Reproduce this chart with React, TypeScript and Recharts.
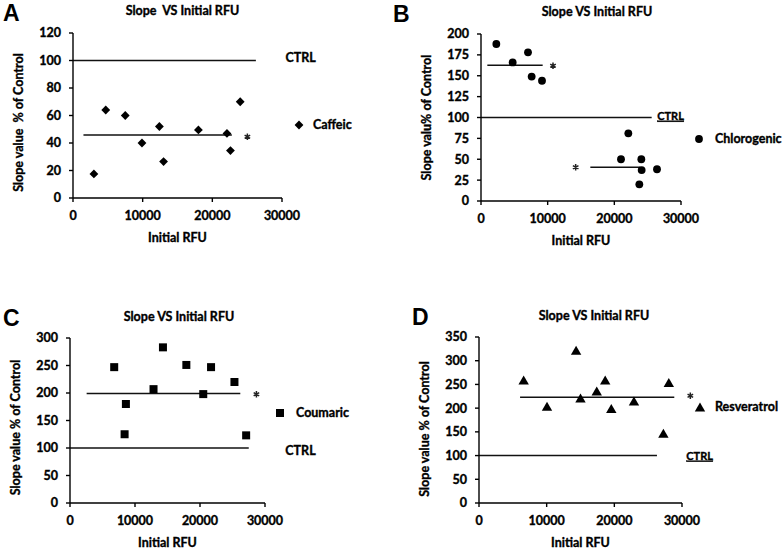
import React from 'react';
import {
  ScatterChart,
  Scatter,
  XAxis,
  YAxis,
  ReferenceLine,
  ReferenceDot,
  Legend,
} from 'recharts';

const FONT = 'Lato, "Open Sans", sans-serif';

// x axis (Initial RFU) is the same for all four panels
const rfuTicks = [0, 10000, 20000, 30000];

// A - caffeic
const caffeicRfu = [3000, 4700, 7500, 9900, 12400, 13000, 18000, 22100, 22600, 24000];
const caffeicSlope = [17.5, 64, 60, 40, 52, 26.5, 49.5, 47, 34.5, 70];
const caffeicTicks = [0, 20, 40, 60, 80, 100, 120];

// B - chlorogenic
const chlorogenicRfu = [2300, 4750, 7050, 7600, 9150, 22100, 21000, 24050, 24100, 26400, 23750];
const chlorogenicSlope = [188, 166, 178, 149, 144, 81, 50, 50, 37, 38, 20];
const chlorogenicTicks = [0, 25, 50, 75, 100, 125, 150, 175, 200];

// C - coumaric
const coumaricRfu = [6800, 8600, 8400, 12850, 14300, 17900, 20500, 21700, 25300, 27100];
const coumaricSlope = [247, 180, 125, 207, 283, 251, 198, 247, 220, 123];
const coumaricTicks = [0, 50, 100, 150, 200, 250, 300];

// D - resveratrol
const resveratrolRfu = [6600, 10050, 14350, 15000, 17400, 18650, 19550, 22900, 27250, 28050];
const resveratrolSlope = [259, 204, 322, 221, 236, 259, 199, 215, 147, 254];
const resveratrolTicks = [0, 50, 100, 150, 200, 250, 300, 350];

const ctrlLevel = 100;

type Seg = { from: number; to: number; y: number };
type Note = { x: number; y: number; text: string; kind: 'ctrl' | 'star'; underline?: boolean };

const zip = (xs: number[], ys: number[]) => xs.map((x, i) => ({ x, y: ys[i] }));

function Diamond({ cx, cy }: any) {
  const r = 4.4;
  return <path d={`M${cx},${cy - r}L${cx + r},${cy}L${cx},${cy + r}L${cx - r},${cy}Z`} fill="#000" />;
}
function Dot({ cx, cy }: any) {
  return <circle cx={cx} cy={cy} r={3.9} fill="#000" />;
}
function Square({ cx, cy }: any) {
  return <rect x={cx - 4} y={cy - 4} width={8} height={8} fill="#000" />;
}
function Triangle({ cx, cy }: any) {
  return <path d={`M${cx},${cy - 4.6}L${cx + 5.2},${cy + 4.4}L${cx - 5.2},${cy + 4.4}Z`} fill="#000" />;
}

// significance star, drawn as spokes so it stays crisp and black
function Star({ cx, cy }: any) {
  const r = 3.2;
  const d = [90, 30, -30]
    .map((a) => {
      const dx = r * Math.cos((a * Math.PI) / 180);
      const dy = r * Math.sin((a * Math.PI) / 180);
      return `M${cx - dx},${cy - dy}L${cx + dx},${cy + dy}`;
    })
    .join('');
  return <path d={d} stroke="#222" strokeWidth={1.5} fill="none" />;
}

// a thin outline makes Lato read closer to the heavier original
const tickStyle = {
  fill: '#000',
  stroke: '#000',
  strokeWidth: 0.35,
  fontFamily: FONT,
  fontWeight: 700,
  fontSize: 12.5,
};

const ctrlLabel = (n: Note) => (props: any) => {
  const vb = props.viewBox;
  const x = vb.x + (vb.width || 0) / 2;
  const y = vb.y + (vb.height || 0) / 2;
  return (
    <text
      x={x}
      y={y}
      dy="0.36em"
      textAnchor="start"
      textDecoration={n.underline ? 'underline' : undefined}
      style={{ ...(tickStyle as any), fontSize: n.underline ? 11 : 12.5 }}
    >
      {n.text}
    </text>
  );
};

const xTitle = (text: string) => (props: any) => {
  const vb = props.viewBox;
  return (
    <text x={vb.x + vb.width / 2} y={vb.y + 39.5} dy="0.36em" textAnchor="middle" style={tickStyle as any}>
      {text}
    </text>
  );
};

const yTitle = (text: string, shift: number) => (props: any) => {
  const vb = props.viewBox;
  const x = vb.x + vb.width - 55;
  const y = vb.y + vb.height / 2 + shift;
  return (
    <text
      x={x}
      y={y}
      dy="0.36em"
      textAnchor="middle"
      transform={`rotate(-90 ${x} ${y})`}
      style={{ ...(tickStyle as any), whiteSpace: 'pre' }}
    >
      {text}
    </text>
  );
};

type PanelProps = {
  left: number;
  top: number;
  plot: [number, number, number, number]; // page coords: left, top, right, bottom
  name: string;
  xs: number[];
  ys: number[];
  yTicks: number[];
  shape: (p: any) => React.ReactElement;
  lines: Seg[];
  notes: Note[];
  legendAt: [number, number, number]; // icon cx, icon cy, text start
  yLabel: string;
  yShift: number;
};

function Panel(p: PanelProps) {
  const W = 391;
  const H = 275;
  const [pl, pt, pr, pb] = p.plot;
  const yAxisW = pl - p.left;
  const xAxisH = 40;
  const margin = {
    top: pt - p.top,
    right: p.left + W - pr,
    bottom: p.top + H - pb - xAxisH,
    left: 0,
  };
  const data = zip(p.xs, p.ys);
  const Shape = p.shape;
  const [icx, icy, tx] = p.legendAt;
  return (
    <div style={{ position: 'absolute', left: p.left, top: p.top }}>
      <ScatterChart width={W} height={H} margin={margin}>
        <XAxis
          type="number"
          dataKey="x"
          domain={[0, 30000]}
          ticks={rfuTicks}
          allowDataOverflow
          height={xAxisH}
          tickSize={4}
          tickMargin={9}
          tick={tickStyle}
          stroke="#000"
          strokeWidth={1.4}
          label={xTitle('Initial RFU')}
        />
        <YAxis
          type="number"
          dataKey="y"
          domain={[0, p.yTicks[p.yTicks.length - 1]]}
          ticks={p.yTicks}
          allowDataOverflow
          width={yAxisW}
          tickSize={4}
          tickMargin={8}
          tick={tickStyle}
          stroke="#000"
          strokeWidth={1.4}
          label={yTitle(p.yLabel, p.yShift)}
        />
        {p.lines.map((s, i) => (
          <ReferenceLine
            key={i}
            segment={[
              { x: s.from, y: s.y },
              { x: s.to, y: s.y },
            ]}
            stroke="#111"
            strokeWidth={1.6}
            ifOverflow="visible"
          />
        ))}
        {p.notes.map((n, i) =>
          n.kind === 'star' ? (
            <ReferenceDot
              key={'n' + i}
              x={n.x}
              y={n.y}
              r={3}
              ifOverflow="visible"
              shape={(s: any) => <Star cx={s.cx} cy={s.cy} />}
            />
          ) : (
            <ReferenceDot
              key={'n' + i}
              x={n.x}
              y={n.y}
              r={1}
              fill="none"
              stroke="none"
              ifOverflow="visible"
              label={ctrlLabel(n)}
            />
          )
        )}
        <Scatter name={p.name} data={data} fill="#000" shape={(s: any) => <Shape cx={s.cx} cy={s.cy} />} isAnimationActive={false} />
        <Legend
          layout="vertical"
          align="center"
          verticalAlign="middle"
          wrapperStyle={{ left: icx - 6 - p.left, top: icy - 8 - p.top, width: 'auto' }}
          content={(lp: any) => (
            <div style={{ display: 'flex', alignItems: 'center', height: 16 }}>
              <svg width={12} height={16}>
                <Shape cx={6} cy={8} />
              </svg>
              <span
                style={{
                  marginLeft: tx - (icx + 6),
                  fontFamily: FONT,
                  fontWeight: 700,
                  fontSize: 12.5,
                  lineHeight: '16px',
                  color: '#000',
                  WebkitTextStroke: '0.35px #000',
                  whiteSpace: 'nowrap',
                }}
              >
                {lp.payload && lp.payload[0] ? lp.payload[0].value : p.name}
              </span>
            </div>
          )}
        />
      </ScatterChart>
    </div>
  );
}

const titleStyle: React.CSSProperties = {
  position: 'absolute',
  width: 300,
  textAlign: 'center',
  fontFamily: FONT,
  fontWeight: 700,
  fontSize: 12.5,
  lineHeight: '16px',
  whiteSpace: 'pre',
  color: '#000',
  WebkitTextStroke: '0.35px #000',
};

const letterStyle: React.CSSProperties = {
  position: 'absolute',
  fontFamily: '"Liberation Sans", Arial, sans-serif',
  fontWeight: 700,
  fontSize: 23,
  lineHeight: '23px',
  color: '#000',
};

export default function App() {
  return (
    <div style={{ position: 'absolute', left: 0, top: 0, width: 782, height: 555, background: '#fff', overflow: 'hidden' }}>
      <Panel
        left={0}
        top={0}
        plot={[73, 33, 282, 198]}
        name="Caffeic"
        xs={caffeicRfu}
        ys={caffeicSlope}
        yTicks={caffeicTicks}
        shape={Diamond}
        lines={[
          { from: 0, to: 26250, y: ctrlLevel },
          { from: 1500, to: 22800, y: 45.8 },
        ]}
        notes={[
          { x: 30500, y: 102, text: 'CTRL', kind: 'ctrl' },
          { x: 25030, y: 44.6, text: '*', kind: 'star' },
        ]}
        legendAt={[299, 125, 313]}
        yLabel="Slope value  % of Control"
        yShift={7}
      />
      <Panel
        left={391}
        top={0}
        plot={[481, 34, 681, 201]}
        name="Chlorogenic"
        xs={chlorogenicRfu}
        ys={chlorogenicSlope}
        yTicks={chlorogenicTicks}
        shape={Dot}
        lines={[
          { from: 0, to: 25600, y: ctrlLevel },
          { from: 950, to: 9250, y: 162.5 },
          { from: 16400, to: 23900, y: 40.4 },
        ]}
        notes={[
          { x: 26430, y: 102, text: 'CTRL', kind: 'ctrl', underline: true },
          { x: 10800, y: 162, text: '*', kind: 'star' },
          { x: 14200, y: 40.4, text: '*', kind: 'star' },
        ]}
        legendAt={[699, 139, 715]}
        yLabel="Slope valu% of Control"
        yShift={0}
      />
      <Panel
        left={0}
        top={275}
        plot={[70, 338, 265, 503]}
        name="Coumaric"
        xs={coumaricRfu}
        ys={coumaricSlope}
        yTicks={coumaricTicks}
        shape={Square}
        lines={[
          { from: 0, to: 27500, y: ctrlLevel },
          { from: 2560, to: 26200, y: 199 },
        ]}
        notes={[
          { x: 33130, y: 95, text: 'CTRL', kind: 'ctrl' },
          { x: 28680, y: 197.8, text: '*', kind: 'star' },
        ]}
        legendAt={[280, 413, 296]}
        yLabel="Slope value % of Control"
        yShift={7}
      />
      <Panel
        left={391}
        top={275}
        plot={[479, 337, 682, 503]}
        name="Resveratrol"
        xs={resveratrolRfu}
        ys={resveratrolSlope}
        yTicks={resveratrolTicks}
        shape={Triangle}
        lines={[
          { from: 0, to: 26300, y: ctrlLevel },
          { from: 6070, to: 28860, y: 223 },
        ]}
        notes={[
          { x: 30630, y: 99.7, text: 'CTRL', kind: 'ctrl', underline: true },
          { x: 31230, y: 226, text: '*', kind: 'star' },
        ]}
        legendAt={[700, 407, 715]}
        yLabel="Slope value % of Control"
        yShift={9}
      />

      <div style={{ ...titleStyle, left: 182.5 - 150, top: 11.5 - 8.3 }}>{'Slope  VS Initial RFU'}</div>
      <div style={{ ...titleStyle, left: 597 - 150, top: 12 - 8.3 }}>Slope VS Initial RFU</div>
      <div style={{ ...titleStyle, left: 179 - 150, top: 317.5 - 8.3 }}>Slope VS Initial RFU</div>
      <div style={{ ...titleStyle, left: 594 - 150, top: 316 - 8.3 }}>Slope VS Initial RFU</div>

      <div style={{ ...letterStyle, left: 3, top: 2 }}>A</div>
      <div style={{ ...letterStyle, left: 393, top: 2.5 }}>B</div>
      <div style={{ ...letterStyle, left: 3, top: 307 }}>C</div>
      <div style={{ ...letterStyle, left: 412, top: 305.5 }}>D</div>
    </div>
  );
}
